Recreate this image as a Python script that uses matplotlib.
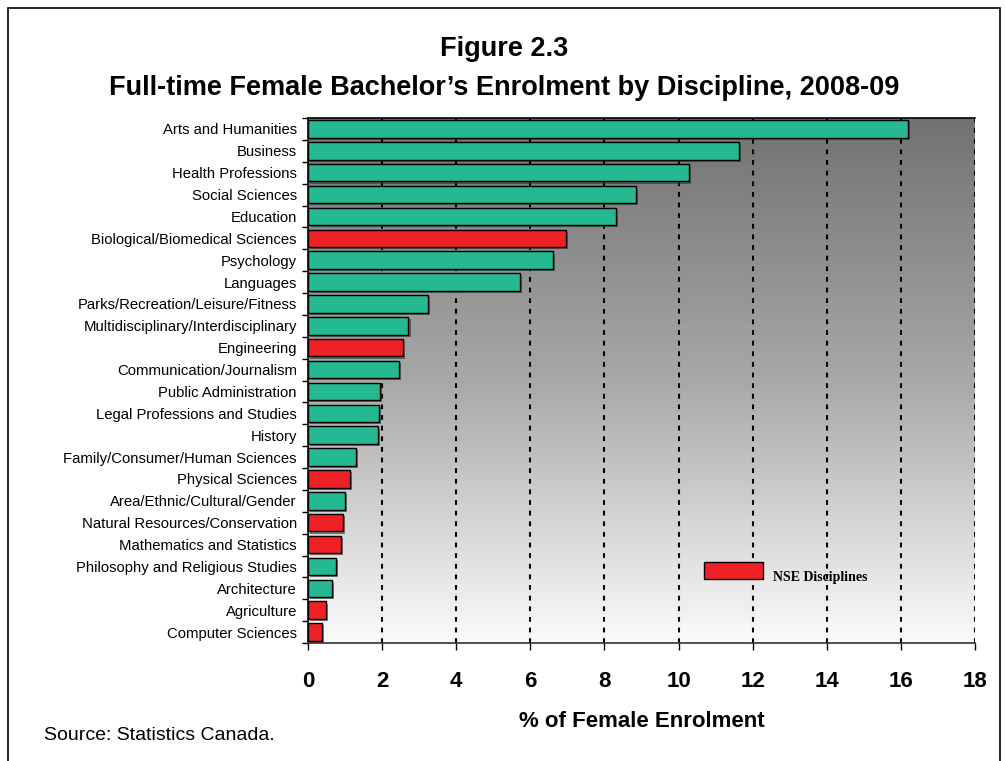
import numpy as np
import matplotlib
matplotlib.use("Agg")
import matplotlib.pyplot as plt
import matplotlib.patheffects as pe
from matplotlib.patches import Rectangle

categories = [
    "Arts and Humanities", "Business", "Health Professions", "Social Sciences",
    "Education", "Biological/Biomedical Sciences", "Psychology", "Languages",
    "Parks/Recreation/Leisure/Fitness", "Multidisciplinary/Interdisciplinary",
    "Engineering", "Communication/Journalism", "Public Administration",
    "Legal Professions and Studies", "History", "Family/Consumer/Human Sciences",
    "Physical Sciences", "Area/Ethnic/Cultural/Gender",
    "Natural Resources/Conservation", "Mathematics and Statistics",
    "Philosophy and Religious Studies", "Architecture", "Agriculture",
    "Computer Sciences",
]
values = [16.18, 11.64, 10.27, 8.84, 8.30, 6.96, 6.60, 5.72, 3.24, 2.71,
          2.56, 2.45, 1.95, 1.91, 1.88, 1.30, 1.14, 1.00, 0.95, 0.90,
          0.76, 0.65, 0.49, 0.38]
nse = [False, False, False, False, False, True, False, False, False, False,
       True, False, False, False, False, False, True, False, True, True,
       False, False, True, True]
xticks = [0, 2, 4, 6, 8, 10, 12, 14, 16, 18]

GREEN = "#24B990"
RED = "#EE2226"

plt.rcParams["font.family"] = ["Liberation Sans", "DejaVu Sans"]

W, H = 1005, 761
fig = plt.figure(figsize=(W / 100, H / 100), dpi=100)

# outer frame
fig.add_artist(Rectangle((8 / W, -0.05), (1000 - 8) / W, (H - 8) / H + 0.05,
                         transform=fig.transFigure, fill=False,
                         edgecolor="black", linewidth=1.2))

ax = fig.add_axes([308 / W, 1 - 643 / H, (975 - 308) / W, (643 - 118) / H])

# gradient background
grad = np.linspace(0, 1, 256).reshape(-1, 1)
cmap = matplotlib.colors.LinearSegmentedColormap.from_list(
    "g", ["#727272", "#a8a8a8", "#fbfbfb"])
ax.imshow(grad, extent=[0, 18, len(categories) - 0.5, -0.5], cmap=cmap,
          aspect="auto", zorder=0)

y = np.arange(len(categories))
colors = [RED if n else GREEN for n in nse]
bars = ax.barh(y, values, height=0.8, color=colors, edgecolor="black",
               linewidth=1.0, zorder=3)
for b in bars:
    b.set_path_effects([pe.SimplePatchShadow(offset=(1.5, -1.5),
                                             shadow_rgbFace="#333333",
                                             alpha=0.6), pe.Normal()])

for xv in xticks[1:]:
    ax.axvline(xv, color="black", linewidth=1.5, dashes=(2.3, 2.8), zorder=2)

ax.set_xlim(0, 18)
ax.set_ylim(len(categories) - 0.5, -0.5)
ax.set_xticks(xticks)
ax.set_xticklabels([str(v) for v in xticks], fontsize=16, fontweight="bold")
ax.tick_params(axis="x", length=5, width=1, pad=15, direction="out")
ax.set_yticks(y)
ax.set_yticklabels(categories, fontsize=10.7)
ax.set_yticks(np.arange(len(categories) + 1) - 0.5, minor=True)
ax.tick_params(axis="y", which="major", length=0, pad=8)
ax.tick_params(axis="y", which="minor", length=4, width=1)
ax.spines["right"].set_visible(False)
ax.spines["top"].set_linewidth(1.2)
ax.spines["left"].set_linewidth(1.2)
ax.spines["bottom"].set_linewidth(1.2)
ax.spines["bottom"].set_color("#333333")

ax.set_xlabel("% of Female Enrolment", fontsize=16, fontweight="bold",
              labelpad=14)

fig.text(504 / W, 1 - 49 / H, "Figure 2.3", ha="center", va="center",
         fontsize=19.5, fontweight="bold")
fig.text(504 / W, 1 - 88 / H,
         "Full-time Female Bachelor\u2019s Enrolment by Discipline, 2008-09",
         ha="center", va="center", fontsize=19.5, fontweight="bold")
fig.text(44 / W, 1 - 735 / H, "Source: Statistics Canada.", ha="left",
         va="center", fontsize=14)

# legend
leg_patch = Rectangle((704 / W, 1 - 579 / H), 59 / W, 17 / H,
                      transform=fig.transFigure, facecolor=RED,
                      edgecolor="black", linewidth=1.0, zorder=5)
fig.add_artist(leg_patch)
fig.text(773 / W, 1 - 577 / H, "NSE Disciplines", ha="left", va="center",
         fontsize=10, fontweight="bold",
         family=["Liberation Serif", "DejaVu Serif"], zorder=5)

fig.savefig("out.png", dpi=100)
